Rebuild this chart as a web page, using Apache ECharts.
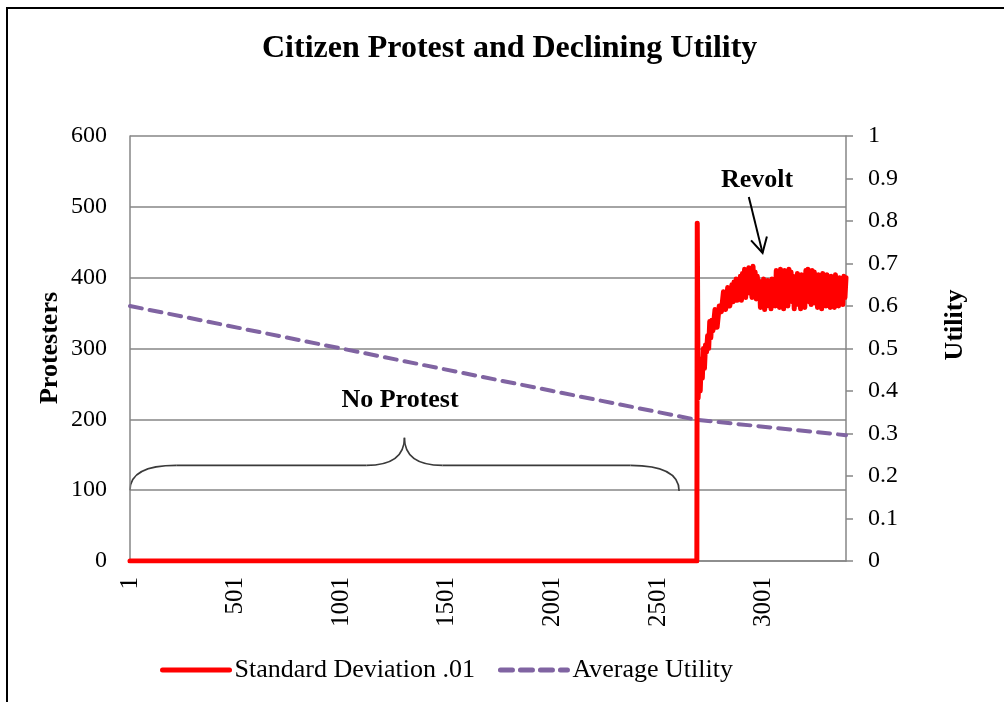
<!DOCTYPE html>
<html>
<head>
<meta charset="utf-8">
<script src="https://cdn.jsdelivr.net/npm/echarts@6/dist/echarts.min.js"></script>
<style>
html, body { margin: 0; padding: 0; background: #fff; }
#chart { width: 1004px; height: 702px; }
</style>
</head>
<body>
<div id="chart"></div>
<script>
// tick labels of the step axis
var xTicks = [1, 501, 1001, 1501, 2001, 2501, 3001];

// protesters (standard deviation .01)
var protestSteps = [1, 2684, 2686, 2690, 2695, 2700, 2705, 2710, 2715, 2720, 2725, 2730, 2735, 2740, 2745, 2750, 2755, 2760,
    2770, 2780, 2790, 2800, 2810, 2820, 2830, 2840,
    2845, 2850, 2855, 2860, 2865, 2870, 2875, 2880, 2885, 2890, 2895, 2900, 2905, 2910, 2915, 2920, 2925, 2930,
    2935, 2940, 2945, 2950, 2955, 2960, 2965, 2970, 2975, 2980,
    2985, 2990, 2995, 3000, 3005, 3010, 3015, 3020, 3025, 3030,
    3035, 3040, 3045, 3050, 3055, 3060, 3065, 3070, 3075, 3080,
    3085, 3090, 3095, 3100, 3105, 3110, 3115, 3120, 3125, 3130,
    3135, 3140, 3145, 3150, 3155, 3160, 3165, 3170, 3175, 3180,
    3185, 3190, 3195, 3200, 3205, 3210, 3215, 3220, 3225, 3230,
    3235, 3240, 3245, 3250, 3255, 3260, 3265, 3270, 3275, 3280,
    3285, 3290, 3295, 3300, 3305, 3310, 3315, 3320, 3325, 3330,
    3335, 3340, 3345, 3350, 3355, 3360, 3365, 3370, 3375, 3380,
    3385, 3390];
var protestValues = [0, 0, 477, 230, 262, 240, 285, 258, 300, 272, 305, 295, 318, 300, 338, 315, 340, 325,
    355, 330, 360, 352, 380, 355, 386, 360,
    372, 390, 366, 394, 370, 398, 368, 392, 375, 402, 368, 406, 380, 412, 372, 400, 385, 414,
    378, 405, 372, 416, 380, 408, 370, 402, 385, 395,
    358, 392, 362, 398, 355, 390, 360, 396, 362, 388,
    356, 398, 366, 394, 360, 410, 366, 406, 358, 412,
    372, 404, 356, 410, 364, 408, 360, 412, 374, 408,
    366, 402, 356, 398, 362, 406, 368, 398, 356, 404,
    364, 396, 358, 410, 370, 412, 366, 406, 362, 410,
    372, 408, 364, 402, 358, 404, 366, 398, 356, 406,
    364, 400, 360, 404, 366, 396, 358, 402, 362, 398,
    358, 404, 364, 396, 360, 400, 366, 396, 362, 402,
    372, 400];

// average utility
var utilitySteps = [1, 1001, 2001, 2686, 3390];
var utilityValues = [0.6, 0.5, 0.4, 0.332, 0.296];

// annotation shapes in data space (step, protesters)
var braceCurve = [[1, 100], [220, 135], [1120, 135], [1300, 174], [1480, 135], [2370, 135], [2600, 99]];
var arrowLine = [[2930, 514], [2995, 435]];

var chart = echarts.init(document.getElementById('chart'));
var font = 'Liberation Serif';
var grey = '#868686';

function pairs(xs, ys) {
    var out = [];
    for (var i = 0; i < xs.length; i++) out.push([xs[i], ys[i]]);
    return out;
}

var option = {
    animation: false,
    textStyle: {fontFamily: font, color: '#000'},
    title: {
        text: 'Citizen Protest and Declining Utility',
        left: 257,
        top: 28,
        textStyle: {fontFamily: font, fontSize: 32, fontWeight: 'bold', color: '#000'}
    },
    grid: {left: 130, right: 158, top: 136, bottom: 141, containLabel: false},
    legend: {
        left: 155,
        top: 652,
        itemWidth: 67,
        itemHeight: 10,
        itemGap: 23,
        itemStyle: {opacity: 0},
        textStyle: {fontFamily: font, fontSize: 26, color: '#000'},
        data: [
            {name: 'Standard Deviation .01', lineStyle: {width: 5}},
            {name: 'Average Utility', lineStyle: {width: 5}}
        ]
    },
    xAxis: {
        type: 'value',
        min: 1,
        max: 3390,
        axisLine: {lineStyle: {color: grey, width: 1.5}},
        axisTick: {show: false},
        splitLine: {show: false},
        axisLabel: {
            customValues: xTicks,
            rotate: 90,
            margin: 16,
            fontSize: 25,
            color: '#000',
            fontFamily: font,
            formatter: function (v) { return String(v); }
        }
    },
    yAxis: [
        {
            type: 'value',
            min: 0,
            max: 600,
            interval: 100,
            position: 'left',
            axisLine: {show: true, lineStyle: {color: grey, width: 1.5}},
            axisTick: {show: false},
            splitLine: {lineStyle: {color: grey, width: 1.5}},
            axisLabel: {margin: 23, fontSize: 24, color: '#000', fontFamily: font}
        },
        {
            type: 'value',
            min: 0,
            max: 1,
            interval: 0.1,
            position: 'right',
            axisLine: {show: true, lineStyle: {color: grey, width: 1.5}},
            axisTick: {show: true, inside: false, length: 7, lineStyle: {color: grey, width: 1.5}},
            splitLine: {show: false},
            axisLabel: {margin: 22, fontSize: 24, color: '#000', fontFamily: font}
        }
    ],
    series: [
        {
            name: 'Average Utility',
            type: 'line',
            yAxisIndex: 1,
            symbol: 'none',
            z: 2,
            lineStyle: {color: '#8064A2', width: 4, type: [12, 8], cap: 'round'},
            itemStyle: {color: '#8064A2'},
            data: pairs(utilitySteps, utilityValues)
        },
        {
            name: 'Standard Deviation .01',
            type: 'line',
            yAxisIndex: 0,
            symbol: 'none',
            z: 3,
            lineStyle: {color: '#FF0000', width: 5, cap: 'round', join: 'round'},
            itemStyle: {color: '#FF0000'},
            data: pairs(protestSteps, protestValues)
        }
    ]
};

chart.setOption(option);

function px(p) {
    return chart.convertToPixel({xAxisIndex: 0, yAxisIndex: 0}, p);
}

// brace over the quiet period, built from quadratic curves and straight runs
var b = braceCurve.map(px);
var braceStyle = {stroke: '#3a3a3a', lineWidth: 1.6, fill: null};
function curve(p, c, q) {
    return {type: 'bezierCurve', silent: true,
        shape: {x1: p[0], y1: p[1], cpx1: c[0], cpy1: c[1], x2: q[0], y2: q[1]}, style: braceStyle};
}
function seg(p, q) {
    return {type: 'line', silent: true,
        shape: {x1: p[0], y1: p[1], x2: q[0], y2: q[1]}, style: braceStyle};
}

var a0 = px(arrowLine[0]), a1 = px(arrowLine[1]);
var ang = Math.atan2(a1[1] - a0[1], a1[0] - a0[0]);
var head = 17, spread = 0.5;
var w1 = [a1[0] - head * Math.cos(ang - spread), a1[1] - head * Math.sin(ang - spread)];
var w2 = [a1[0] - head * Math.cos(ang + spread), a1[1] - head * Math.sin(ang + spread)];

var labelFont = 'bold 26px "Liberation Serif"';

chart.setOption({
    graphic: [
        {
            type: 'polyline',
            silent: true,
            shape: {points: [[7, 712], [7, 8], [1014, 8]]},
            style: {stroke: '#000', lineWidth: 2, fill: null}
        },
        curve(b[0], [b[0][0], b[1][1]], b[1]),
        seg(b[1], b[2]),
        curve(b[2], [b[3][0], b[2][1]], b[3]),
        curve(b[3], [b[3][0], b[4][1]], b[4]),
        seg(b[4], b[5]),
        curve(b[5], [b[6][0], b[5][1]], b[6]),
        {
            type: 'polyline',
            silent: true,
            shape: {points: [a0, a1]},
            style: {stroke: '#000', lineWidth: 2, fill: null}
        },
        {
            type: 'polyline',
            silent: true,
            shape: {points: [w1, a1, w2]},
            style: {stroke: '#000', lineWidth: 2, fill: null}
        },
        {
            type: 'text', silent: true, x: 757, y: 180,
            style: {text: 'Revolt', font: labelFont, fill: '#000', align: 'center', verticalAlign: 'middle'}
        },
        {
            type: 'text', silent: true, x: 400, y: 400,
            style: {text: 'No Protest', font: labelFont, fill: '#000', align: 'center', verticalAlign: 'middle'}
        },
        {
            type: 'text', silent: true, x: 50, y: 348, rotation: Math.PI / 2,
            style: {text: 'Protesters', font: labelFont, fill: '#000', align: 'center', verticalAlign: 'middle'}
        },
        {
            type: 'text', silent: true, x: 955, y: 325, rotation: Math.PI / 2,
            style: {text: 'Utility', font: labelFont, fill: '#000', align: 'center', verticalAlign: 'middle'}
        }
    ]
});
</script>
</body>
</html>
